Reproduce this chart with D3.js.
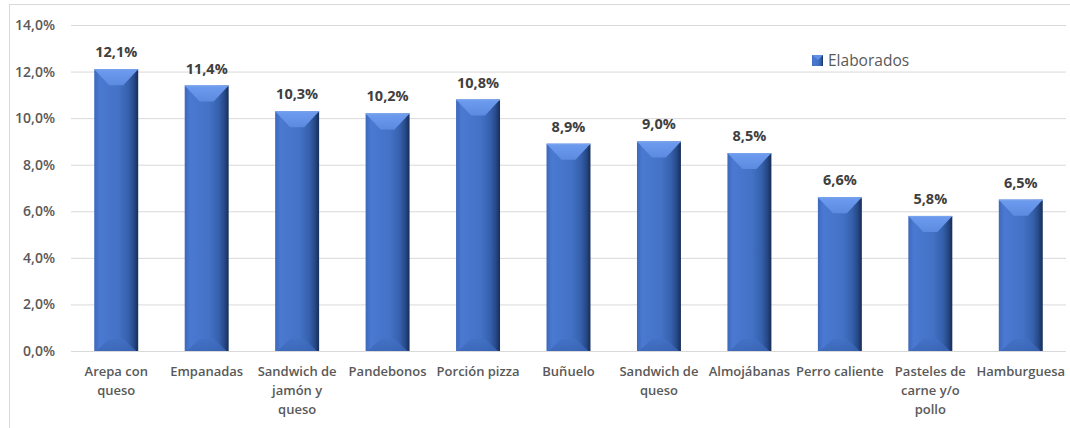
<!DOCTYPE html>
<html>
<head>
<meta charset="utf-8">
<script src="https://cdn.jsdelivr.net/npm/d3@7"></script>
<style>
  html, body { margin: 0; padding: 0; background: #fff; }
  svg { display: block; }
  text { font-family: "Open Sans", "Liberation Sans", sans-serif; }
</style>
</head>
<body>
<svg id="chart" width="1070" height="428"></svg>
<script>
// Share of each prepared food product (Elaborados)
const categories = [
  "Arepa con queso", "Empanadas", "Sandwich de jamón y queso", "Pandebonos",
  "Porción pizza", "Buñuelo", "Sandwich de queso", "Almojábanas",
  "Perro caliente", "Pasteles de carne y/o pollo", "Hamburguesa"
];
// Line breaks used for the category labels under the axis
const categoryLines = [
  ["Arepa con", "queso"], ["Empanadas"], ["Sandwich de", "jamón y", "queso"], ["Pandebonos"],
  ["Porción pizza"], ["Buñuelo"], ["Sandwich de", "queso"], ["Almojábanas"],
  ["Perro caliente"], ["Pasteles de", "carne y/o", "pollo"], ["Hamburguesa"]
];
const values = [12.1, 11.4, 10.3, 10.2, 10.8, 8.9, 9.0, 8.5, 6.6, 5.8, 6.5];
const yTicks = [0, 2, 4, 6, 8, 10, 12, 14];
const seriesName = "Elaborados";

const fmt = v => d3.format(".1f")(v).replace(".", ",") + "%";

const svg = d3.select("#chart");
const plot = { left: 71, right: 1066, top: 25, bottom: 351 };

const x = d3.scaleBand().domain(categories).range([plot.left, plot.right]).paddingInner(0.514).paddingOuter(0.257);
const y = d3.scaleLinear().domain([0, 14]).range([plot.bottom, plot.top]);

// chart area frame
svg.append("rect")
  .attr("x", 9.5).attr("y", 4.5).attr("width", 1100).attr("height", 460)
  .attr("fill", "none").attr("stroke", "#d9d9d9").attr("stroke-width", 1);

// gradients for the bevelled columns
const defs = svg.append("defs");
const body = defs.append("linearGradient").attr("id", "gBody").attr("x1", "0").attr("x2", "1").attr("y1", "0").attr("y2", "0");
[["0%", "#3d68bb"], ["12%", "#4a79d2"], ["55%", "#4472c6"], ["78%", "#3560ac"], ["90%", "#274a88"], ["100%", "#162d58"]]
  .forEach(([o, c]) => body.append("stop").attr("offset", o).attr("stop-color", c));
const topG = defs.append("linearGradient").attr("id", "gTop").attr("x1", "0").attr("x2", "0").attr("y1", "0").attr("y2", "1");
[["0%", "#6d9cef"], ["100%", "#5b8ae0"]].forEach(([o, c]) => topG.append("stop").attr("offset", o).attr("stop-color", c));
const botG = defs.append("linearGradient").attr("id", "gBot").attr("x1", "0").attr("x2", "0").attr("y1", "0").attr("y2", "1");
[["0%", "#4170c4"], ["100%", "#3c66b6"]].forEach(([o, c]) => botG.append("stop").attr("offset", o).attr("stop-color", c));

// gridlines
svg.append("g")
  .attr("transform", `translate(${plot.left},0)`)
  .call(d3.axisLeft(y).tickValues(yTicks).tickSize(-(plot.right - plot.left)).tickFormat(""))
  .call(g => g.select(".domain").remove())
  .call(g => g.selectAll(".tick line").attr("stroke", "#d9d9d9").attr("stroke-width", 1));

// y tick labels
svg.append("g")
  .attr("transform", `translate(${plot.left},0)`)
  .call(d3.axisLeft(y).tickValues(yTicks).tickSize(0).tickPadding(16).tickFormat(fmt))
  .call(g => g.select(".domain").remove())
  .call(g => g.selectAll(".tick text")
    .attr("fill", "#595959").attr("font-size", "14px").attr("font-weight", 600)
    .style("font-family", "'Open Sans', sans-serif"));

// columns
const bars = svg.append("g").selectAll("g").data(categories).join("g");
bars.each(function (c, i) {
  const g = d3.select(this);
  const x0 = x(c), w = x.bandwidth(), x1 = x0 + w;
  const yt = y(values[i]), yb = y(0);
  const bev = 16, inset = w * 0.34;
  g.append("rect").attr("x", x0).attr("y", yt).attr("width", w).attr("height", yb - yt).attr("fill", "url(#gBody)");
  g.append("polygon")
    .attr("points", [[x0, yt], [x1, yt], [x1 - inset, yt + bev], [x0 + inset, yt + bev]].map(p => p.join(",")).join(" "))
    .attr("fill", "url(#gTop)");
  g.append("polygon")
    .attr("points", [[x0 + 2, yb], [x1 - 2, yb], [x1 - inset, yb - 12], [x0 + inset, yb - 12]].map(p => p.join(",")).join(" "))
    .attr("fill", "url(#gBot)").attr("opacity", 0.8);
  g.append("line").attr("x1", x0).attr("x2", x1).attr("y1", yt + 0.5).attr("y2", yt + 0.5)
    .attr("stroke", "#7aa3ee").attr("stroke-width", 1);
});

// value labels
svg.append("g").selectAll("text").data(categories).join("text")
  .attr("x", c => x(c) + x.bandwidth() / 2)
  .attr("y", (c, i) => y(values[i]) - 12)
  .attr("text-anchor", "middle")
  .attr("fill", "#404040").attr("font-size", "14.5px").attr("font-weight", 700)
  .text((c, i) => fmt(values[i]));

// category labels
const cat = svg.append("g").selectAll("text").data(categories).join("text")
  .attr("text-anchor", "middle")
  .attr("fill", "#595959").attr("font-size", "13px").attr("font-weight", 600);
cat.each(function (c, i) {
  const t = d3.select(this);
  categoryLines[i].forEach((line, k) => {
    t.append("tspan").attr("x", x(c) + x.bandwidth() / 2).attr("y", 376 + k * 19).text(line);
  });
});

// legend
const lg = svg.append("g").attr("transform", "translate(812,55)");
lg.append("rect").attr("width", 11).attr("height", 11).attr("fill", "url(#gBody)");
lg.append("polygon").attr("points", "0,0 11,0 6,5").attr("fill", "#5f8fe6");
lg.append("text").attr("x", 16).attr("y", 11).attr("fill", "#595959").attr("font-size", "15.5px").text(seriesName);
</script>
</body>
</html>
